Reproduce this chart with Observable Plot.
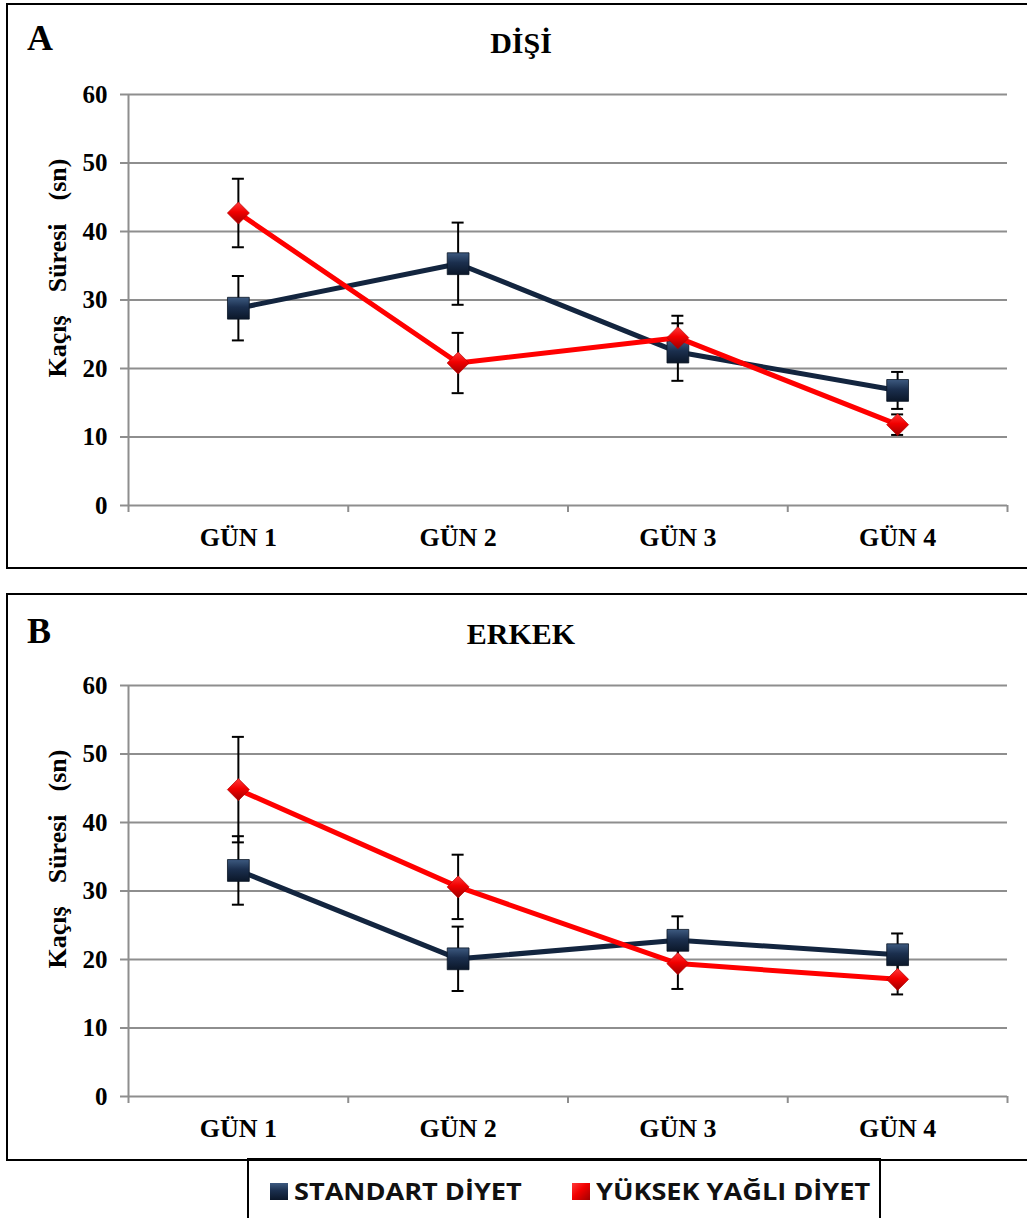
<!DOCTYPE html>
<html>
<head>
<meta charset="utf-8">
<script src="https://cdn.jsdelivr.net/npm/d3@7"></script>
<script src="https://cdn.jsdelivr.net/npm/@observablehq/plot@0.6"></script>
<style>
  body { margin: 0; background: #fff; }
  #root { position: relative; width: 1027px; height: 1218px; overflow: hidden; background: #fff; }
  .box { position: absolute; box-sizing: border-box; border: 2px solid #000; }
  .t { position: absolute; font-family: "Liberation Serif", "Times New Roman", serif; font-weight: bold; line-height: 1; white-space: pre; color: #000; }
  .yl { word-spacing: 5px; }
  .lg { position: absolute; font-family: "Open Sans", sans-serif; font-weight: 700; font-size: 24px; line-height: 1; white-space: pre; color: #111; transform-origin: left center; transform: scaleX(1.13); }
  .sw { position: absolute; width: 18px; height: 17px; }
</style>
</head>
<body>
<svg width="0" height="0" style="position:absolute">
  <defs>
    <linearGradient id="gNavy" x1="0" y1="0" x2="0" y2="1">
      <stop offset="0" stop-color="#3d5a80"/>
      <stop offset="0.45" stop-color="#1b2f4e"/>
      <stop offset="1" stop-color="#0b1729"/>
    </linearGradient>
    <linearGradient id="gRed" x1="0" y1="0" x2="1" y2="1">
      <stop offset="0" stop-color="#ff3a3a"/>
      <stop offset="0.45" stop-color="#f20000"/>
      <stop offset="1" stop-color="#a00000"/>
    </linearGradient>
  </defs>
</svg>
<div id="root">
  <div class="box" style="left:6px; top:3px; width:1040px; height:566px;"></div>
  <div class="box" style="left:6px; top:593px; width:1040px; height:568px;"></div>
  <div class="box" style="left:247px; top:1158px; width:634px; height:90px; border-top-width:3px;"></div>

  <div class="t" style="left:27px; top:20px; font-size:36px;">A</div>
  <div class="t" style="left:521px; top:28px; font-size:30px; transform:translateX(-50%);">DİŞİ</div>
  <div class="t yl" style="left:58px; top:268px; font-size:26px; transform:translate(-50%,-50%) rotate(-90deg);">Kaçış  Süresi  (sn)</div>

  <div class="t" style="left:27px; top:613px; font-size:36px;">B</div>
  <div class="t" style="left:521px; top:619px; font-size:30px; transform:translateX(-50%);">ERKEK</div>
  <div class="t yl" style="left:58px; top:859px; font-size:26px; transform:translate(-50%,-50%) rotate(-90deg);">Kaçış  Süresi  (sn)</div>

  <div class="sw" style="left:270px; top:1183px; background:linear-gradient(#3d5a80,#1b2f4e 45%,#0b1729);"></div>
  <div class="lg" id="lg1" style="left:294px; top:1179px;"></div>
  <div class="sw" style="left:572px; top:1183px; background:linear-gradient(135deg,#ff3a3a,#f20000 45%,#a00000);"></div>
  <div class="lg" id="lg2" style="left:596px; top:1179px;"></div>
</div>
<script>
// ---- data ----
const categories = ["GÜN 1", "GÜN 2", "GÜN 3", "GÜN 4"];
const yTicks = [0, 10, 20, 30, 40, 50, 60];
const seriesNames = ["STANDART DİYET", "YÜKSEK YAĞLI DİYET"];

// Panel A: DİŞİ
const disiStd    = [28.8, 35.3, 22.4, 16.8];
const disiStdErr = [4.7, 6.0, 4.2, 2.7];
const disiYag    = [42.7, 20.8, 24.5, 11.8];
const disiYagErr = [5.0, 4.4, 3.2, 1.5];

// Panel B: ERKEK
const erkekStd    = [33.0, 20.1, 22.8, 20.7];
const erkekStdErr = [5.0, 4.7, 3.5, 3.1];
const erkekYag    = [44.8, 30.6, 19.4, 17.1];
const erkekYagErr = [7.7, 4.7, 3.7, 2.2];

const navy = "#13253f";
const red = "#ff0000";
const grid = "#8e8e8e";

document.getElementById("lg1").textContent = seriesNames[0];
document.getElementById("lg2").textContent = seriesNames[1];

function rows(vals, errs) {
  return categories.map((c, i) => ({x: i + 1, cat: c, y: vals[i], lo: vals[i] - errs[i], hi: vals[i] + errs[i]}));
}

const n = categories.length;
const xDomain = [0.5, n + 0.5];
const boundaries = d3.range(0.5, n + 1, 1);
const centers = d3.range(1, n + 1);

function panel(std, stdErr, yag, yagErr) {
  const s = rows(std, stdErr);
  const h = rows(yag, yagErr);
  const all = s.concat(h);
  const cap = {stroke: "#000", strokeWidth: 2, insetLeft: -6, insetRight: -6};
  return Plot.plot({
    width: 1027,
    height: 570,
    marginLeft: 128,
    marginRight: 20,
    marginTop: 94,
    marginBottom: 65,
    x: {type: "linear", domain: xDomain, axis: null},
    y: {domain: [yTicks[0], yTicks[yTicks.length - 1]], axis: null},
    style: {fontFamily: "'Liberation Serif', 'Times New Roman', serif", fontWeight: "bold", background: "transparent", overflow: "visible", color: "#000"},
    marks: [
      Plot.ruleY(yTicks, {stroke: grid, strokeWidth: 2}),
      Plot.ruleX([xDomain[0]], {y1: yTicks[0], y2: yTicks[yTicks.length - 1], stroke: grid, strokeWidth: 2}),
      Plot.axisY({ticks: yTicks, tickSize: 8, tickPadding: 13, stroke: grid, strokeWidth: 2, fill: "#000", fontSize: 25, fontWeight: "bold", label: null}),
      Plot.axisX({ticks: boundaries, tickSize: 7, tickFormat: () => "", stroke: grid, strokeWidth: 2, label: null}),
      Plot.axisX({ticks: centers, tickSize: 0, tickPadding: 22, tickFormat: i => categories[i - 1], fill: "#000", fontSize: 26, fontWeight: "bold", label: null}),
      Plot.ruleX(all, {x: "x", y1: "lo", y2: "hi", stroke: "#000", strokeWidth: 2}),
      Plot.ruleY(all, {y: "hi", x1: "x", x2: "x", ...cap}),
      Plot.ruleY(all, {y: "lo", x1: "x", x2: "x", ...cap}),
      Plot.line(s, {x: "x", y: "y", stroke: navy, strokeWidth: 5}),
      Plot.dot(s, {x: "x", y: "y", symbol: "square", r: 12.3, fill: "url(#gNavy)", stroke: "#0a1524", strokeWidth: 0.8}),
      Plot.line(h, {x: "x", y: "y", stroke: red, strokeWidth: 5}),
      Plot.dot(h, {x: "x", y: "y", symbol: "square", rotate: 45, r: 8.8, fill: "url(#gRed)", stroke: "#b00000", strokeWidth: 0.6})
    ]
  });
}

const root = document.getElementById("root");
const pA = panel(disiStd, disiStdErr, disiYag, disiYagErr);
pA.style.position = "absolute"; pA.style.left = "0px"; pA.style.top = "0px";
root.appendChild(pA);
const pB = panel(erkekStd, erkekStdErr, erkekYag, erkekYagErr);
pB.style.position = "absolute"; pB.style.left = "0px"; pB.style.top = "591px";
root.appendChild(pB);
</script>
</body>
</html>
